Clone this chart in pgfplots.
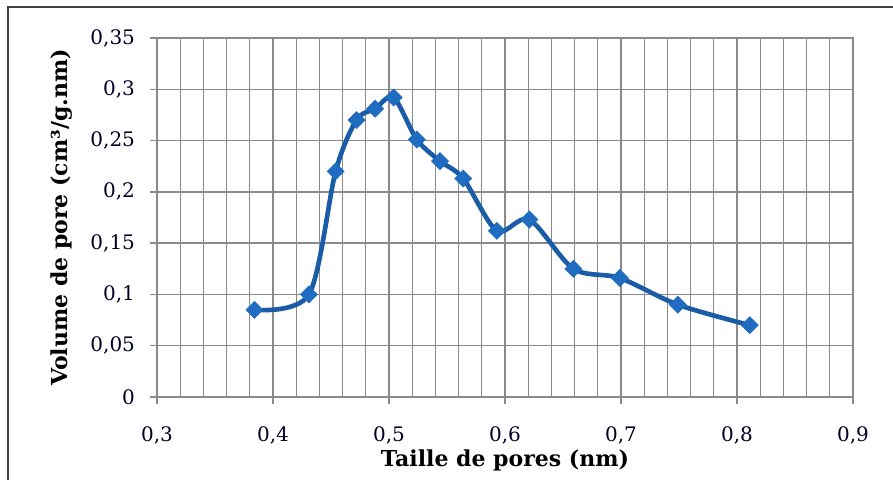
\documentclass[border=0pt]{standalone}
\usepackage{fontspec}
\setmainfont{DejaVu Serif}
\usepackage{pgfplots}
\pgfplotsset{compat=1.18}

\definecolor{ligne}{HTML}{1A5CA6}
\definecolor{marque}{HTML}{1F6CC0}
\definecolor{grille}{HTML}{8A8A8A}

\begin{document}
\begin{tikzpicture}
% page = 893 x 479 px, 1 px = 0.75pt, axis box lower left at (0,0)
\path[use as bounding box] (-117.75pt,-61.5pt) rectangle (552pt,297.75pt);
\draw[line width=1.5pt, black!75] (-111.75pt,-80pt) -- (-111.75pt,292.5pt) -- (600pt,292.5pt);

\begin{axis}[
    scale only axis,
    width=522pt, height=269.25pt,
    xmin=0.3, xmax=0.9,
    ymin=0, ymax=0.35,
    xtick={0.3,0.4,0.5,0.6,0.7,0.8,0.9},
    minor xtick={0.32,0.34,0.36,0.38,0.42,0.44,0.46,0.48,0.52,0.54,0.56,0.58,
                 0.62,0.64,0.66,0.68,0.72,0.74,0.76,0.78,0.82,0.84,0.86,0.88},
    ytick={0,0.05,0.1,0.15,0.2,0.25,0.3,0.35},
    grid=both,
    major grid style={grille, line width=1pt},
    minor grid style={grille, line width=1pt},
    axis line style={grille, line width=1pt},
    tick style={grille, line width=1pt},
    tick align=outside,
    major tick length=5pt,
    minor tick length=0pt,
    xtick pos=bottom, ytick pos=left,
    /pgf/number format/.cd, use comma, fixed, precision=2, assume math mode=true,
    /pgfplots/.cd,
    tick label style={font=\fontsize{15}{17}\selectfont, black!85!blue},
    xticklabel style={yshift=-14pt},
    yticklabel style={xshift=-8pt},
    xlabel={Taille de pores (nm)},
    ylabel={Volume de pore (cm³/g.nm)},
    label style={font=\fontsize{16.5}{18}\selectfont\bfseries, black},
    xlabel style={at={(axis description cs:0.5,-0.1755)}, anchor=center},
    ylabel style={at={(axis description cs:-0.1365,0.5)}, anchor=center},
]
\addplot[ligne, line width=3.5pt, smooth, tension=0.5,
    mark=square*, mark size=4.5pt,
    mark options={rotate=45, fill=marque, draw=marque, line width=0.5pt}]
coordinates {
    (0.384, 0.085)
    (0.431, 0.100)
    (0.454, 0.220)
    (0.472, 0.270)
    (0.488, 0.281)
    (0.504, 0.292)
    (0.524, 0.251)
    (0.544, 0.230)
    (0.564, 0.213)
    (0.593, 0.162)
    (0.621, 0.173)
    (0.659, 0.125)
    (0.699, 0.116)
    (0.749, 0.090)
    (0.811, 0.070)
};
\end{axis}
\end{tikzpicture}
\end{document}
